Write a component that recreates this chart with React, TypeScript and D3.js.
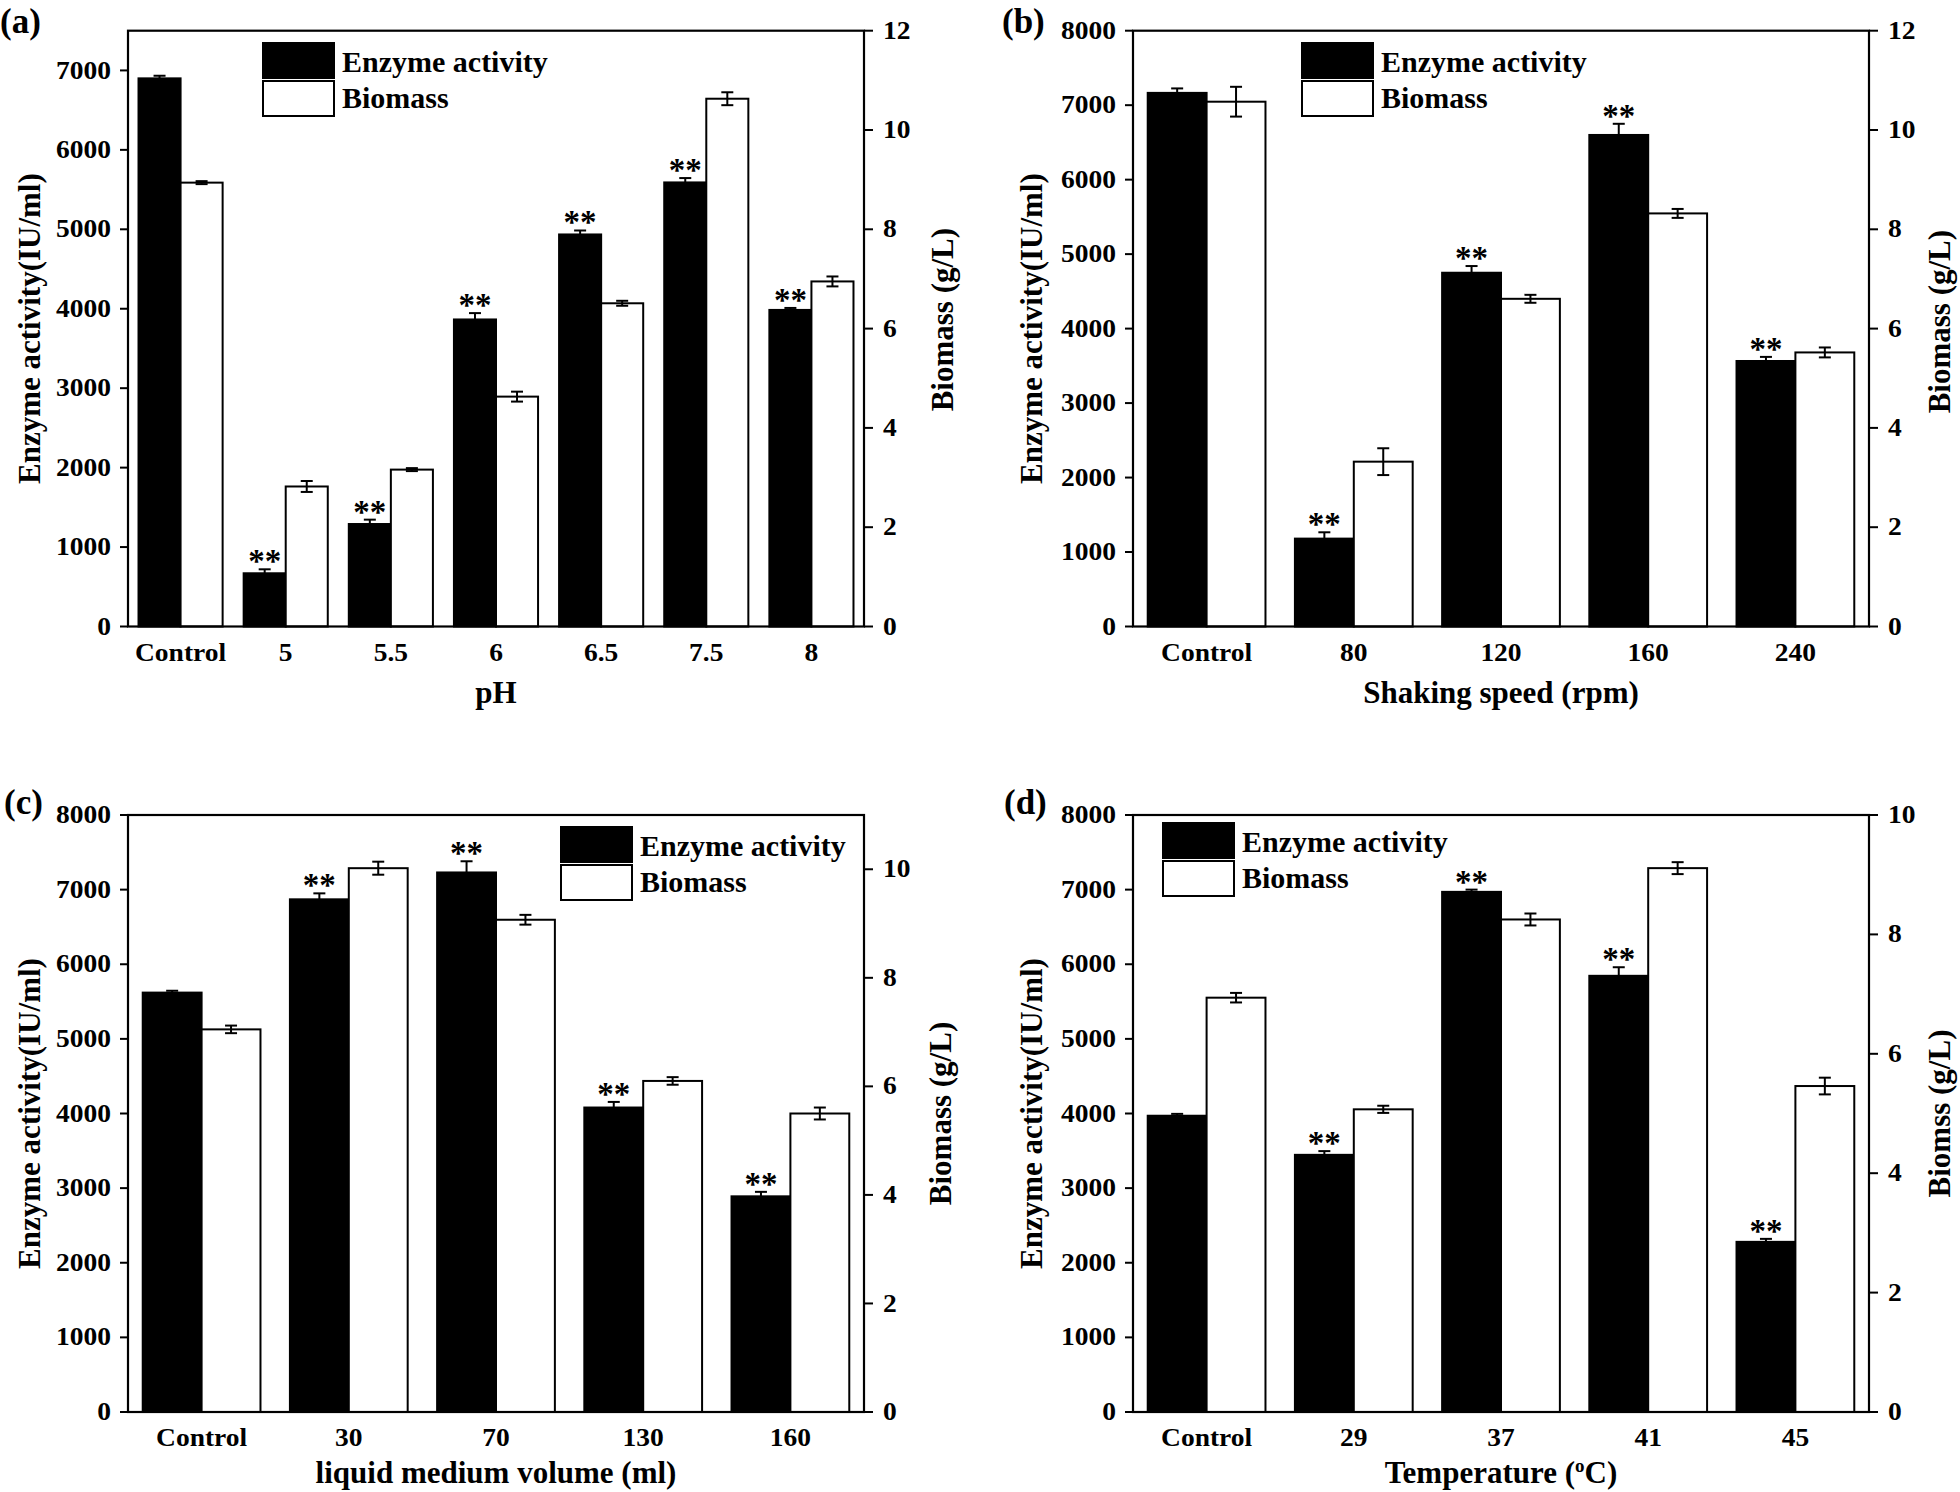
import React from 'react';
import * as d3 from 'd3';

// ---------- DATA ----------
// Panel (a) pH
const catsA = ['Control', '5', '5.5', '6', '6.5', '7.5', '8'];
const enzA = [6900, 670, 1290, 3865, 4935, 5590, 3985];
const enzErrA = [33, 50, 55, 80, 50, 55, 25];
const bioA = [8.94, 2.82, 3.16, 4.63, 6.51, 10.63, 6.95];
const bioErrA = [0.03, 0.11, 0.03, 0.1, 0.05, 0.13, 0.1];
const sigA = [false, true, true, true, true, true, true];

// Panel (b) shaking speed
const catsB = ['Control', '80', '120', '160', '240'];
const enzB = [7165, 1180, 4750, 6600, 3565];
const enzErrB = [60, 85, 90, 150, 55];
const bioB = [10.57, 3.32, 6.6, 8.32, 5.52];
const bioErrB = [0.3, 0.27, 0.08, 0.09, 0.1];
const sigB = [false, true, true, true, true];

// Panel (c) liquid medium volume
const catsC = ['Control', '30', '70', '130', '160'];
const enzC = [5620, 6870, 7230, 4080, 2890];
const enzErrC = [25, 80, 150, 75, 60];
const bioC = [7.05, 10.02, 9.07, 6.1, 5.5];
const bioErrC = [0.07, 0.12, 0.09, 0.07, 0.11];
const sigC = [false, true, true, true, true];

// Panel (d) temperature
const catsD = ['Control', '29', '37', '41', '45'];
const enzD = [3970, 3446, 6970, 5845, 2280];
const enzErrD = [25, 50, 30, 115, 40];
const bioD = [6.94, 5.07, 8.25, 9.11, 5.46];
const bioErrD = [0.08, 0.06, 0.1, 0.1, 0.14];
const sigD = [false, true, true, true, true];

// Tick labels
const leftTicks7 = [0, 1000, 2000, 3000, 4000, 5000, 6000, 7000];
const leftTicks8 = [0, 1000, 2000, 3000, 4000, 5000, 6000, 7000, 8000];
const rightTicks12 = [0, 2, 4, 6, 8, 10, 12];
const rightTicks10 = [0, 2, 4, 6, 8, 10];

const legendLabels = ['Enzyme activity', 'Biomass'];

// ---------- LAYOUT ----------
const FONT = '"Liberation Serif", "Times New Roman", Times, serif';

type Cfg = {
  label: string;
  cats: string[];
  enz: number[]; enzErr: number[]; bio: number[]; bioErr: number[]; sig: boolean[];
  leftMax: number; rightMax: number; leftTicks: number[]; rightTicks: number[];
  x0: number; x1: number; y0: number; y1: number;
  xTitle: string; yTitle: string; rTitle: string;
  legX: number; legY: number;
  labelX: number; labelY: number;
  yTitleX: number; rTitleX: number; rTitleDy: number; xTitleDy: number;
};

const panels: Cfg[] = [
  {
    label: '(a)', cats: catsA, enz: enzA, enzErr: enzErrA, bio: bioA, bioErr: bioErrA, sig: sigA,
    leftMax: 7500, rightMax: 12, leftTicks: leftTicks7, rightTicks: rightTicks12,
    x0: 128, x1: 864, y0: 30.7, y1: 626.5,
    xTitle: 'pH', yTitle: 'Enzyme activity(IU/ml)', rTitle: 'Biomass (g/L)',
    legX: 263, legY: 43, labelX: 0, labelY: 33, yTitleX: 40, rTitleX: 953, rTitleDy: -9, xTitleDy: 76,
  },
  {
    label: '(b)', cats: catsB, enz: enzB, enzErr: enzErrB, bio: bioB, bioErr: bioErrB, sig: sigB,
    leftMax: 8000, rightMax: 12, leftTicks: leftTicks8, rightTicks: rightTicks12,
    x0: 1133, x1: 1869, y0: 30.7, y1: 626.5,
    xTitle: 'Shaking speed (rpm)', yTitle: 'Enzyme activity(IU/ml)', rTitle: 'Biomass (g/L)',
    legX: 1302, legY: 43, labelX: 1002, labelY: 33, yTitleX: 1042, rTitleX: 1950, rTitleDy: -7, xTitleDy: 76,
  },
  {
    label: '(c)', cats: catsC, enz: enzC, enzErr: enzErrC, bio: bioC, bioErr: bioErrC, sig: sigC,
    leftMax: 8000, rightMax: 11, leftTicks: leftTicks8, rightTicks: rightTicks10,
    x0: 128, x1: 864, y0: 815, y1: 1412,
    xTitle: 'liquid medium volume (ml)', yTitle: 'Enzyme activity(IU/ml)', rTitle: 'Biomass (g/L)',
    legX: 561, legY: 827, labelX: 4, labelY: 814, yTitleX: 40, rTitleX: 951, rTitleDy: 0, xTitleDy: 71,
  },
  {
    label: '(d)', cats: catsD, enz: enzD, enzErr: enzErrD, bio: bioD, bioErr: bioErrD, sig: sigD,
    leftMax: 8000, rightMax: 10, leftTicks: leftTicks8, rightTicks: rightTicks10,
    x0: 1133, x1: 1869, y0: 815, y1: 1412,
    xTitle: 'temp', yTitle: 'Enzyme activity(IU/ml)', rTitle: 'Biomss (g/L)',
    legX: 1163, legY: 823, labelX: 1004, labelY: 814, yTitleX: 1042, rTitleX: 1950, rTitleDy: 0, xTitleDy: 71,
  },
];

const TICK_FS = 25;
const TICK_SX = 1.1;

function ErrBar({ x, yTop, yBot }: { x: number; yTop: number; yBot: number }) {
  const hw = 6;
  return (
    <g stroke="#000" strokeWidth={2}>
      <line x1={x} x2={x} y1={yTop} y2={yBot} />
      <line x1={x - hw} x2={x + hw} y1={yTop} y2={yTop} />
      <line x1={x - hw} x2={x + hw} y1={yBot} y2={yBot} />
    </g>
  );
}

function Panel({ c }: { c: Cfg }) {
  const x = d3.scaleBand<string>().domain(c.cats).range([c.x0, c.x1]).paddingInner(0).paddingOuter(0);
  const xs = d3.scaleBand<string>().domain(['enz', 'bio']).range([0, x.bandwidth()]).paddingInner(0).paddingOuter(0.25);
  const yL = d3.scaleLinear().domain([0, c.leftMax]).range([c.y1, c.y0]);
  const yR = d3.scaleLinear().domain([0, c.rightMax]).range([c.y1, c.y0]);
  const bw = xs.bandwidth();
  const cy = (c.y0 + c.y1) / 2;
  const cx = (c.x0 + c.x1) / 2;

  return (
    <g fontFamily={FONT} fontWeight="bold" fill="#000">
      {/* bars */}
      {c.cats.map((cat, i) => {
        const gx = x(cat)!;
        const ex = gx + xs('enz')!;
        const bx = gx + xs('bio')!;
        const ey = yL(c.enz[i]);
        const by = yR(c.bio[i]);
        const capY = yL(c.enz[i] + c.enzErr[i]);
        return (
          <g key={cat}>
            <rect x={ex} y={ey} width={bw} height={c.y1 - ey} fill="#000" stroke="#000" strokeWidth={2} />
            <rect x={bx} y={by} width={bw} height={c.y1 - by} fill="#fff" stroke="#000" strokeWidth={2} />
            <ErrBar x={ex + bw / 2} yTop={capY} yBot={yL(c.enz[i] - c.enzErr[i])} />
            <ErrBar x={bx + bw / 2} yTop={yR(c.bio[i] + c.bioErr[i])} yBot={yR(c.bio[i] - c.bioErr[i])} />
            {c.sig[i] && (
              <text x={ex + bw / 2} y={capY + 3} textAnchor="middle" fontSize={33} fontWeight="bold">**</text>
            )}
          </g>
        );
      })}
      {/* frame */}
      <rect x={c.x0} y={c.y0} width={c.x1 - c.x0} height={c.y1 - c.y0} fill="none" stroke="#000" strokeWidth={2.2} />
      {/* left axis */}
      {c.leftTicks.map((t) => (
        <g key={'l' + t}>
          <line x1={c.x0 - 8} x2={c.x0} y1={yL(t)} y2={yL(t)} stroke="#000" strokeWidth={2} />
          <text transform={`translate(${c.x0 - 17},${yL(t)}) scale(${TICK_SX},1)`} textAnchor="end" dominantBaseline="central" fontSize={TICK_FS}>{t}</text>
        </g>
      ))}
      {/* right axis */}
      {c.rightTicks.map((t) => (
        <g key={'r' + t}>
          <line x1={c.x1} x2={c.x1 + 9} y1={yR(t)} y2={yR(t)} stroke="#000" strokeWidth={2} />
          <text transform={`translate(${c.x1 + 19},${yR(t)}) scale(${TICK_SX},1)`} textAnchor="start" dominantBaseline="central" fontSize={TICK_FS}>{t}</text>
        </g>
      ))}
      {/* x tick labels */}
      {c.cats.map((cat) => (
        <text key={'x' + cat} transform={`translate(${x(cat)! + x.bandwidth() / 2},${c.y1 + 34}) scale(${TICK_SX},1)`} textAnchor="middle" fontSize={TICK_FS}>{cat}</text>
      ))}
      {/* titles */}
      <text x={cx} y={c.y1 + c.xTitleDy} textAnchor="middle" fontSize={31}>
        {c.xTitle === 'temp' ? (
          <>Temperature (<tspan fontSize={19} dy={-11}>o</tspan><tspan dy={11}>C)</tspan></>
        ) : c.xTitle}
      </text>
      <text transform={`translate(${c.yTitleX},${cy}) rotate(-90)`} textAnchor="middle" fontSize={31}>{c.yTitle}</text>
      <text transform={`translate(${c.rTitleX},${cy + c.rTitleDy}) rotate(-90)`} textAnchor="middle" fontSize={31}>{c.rTitle}</text>
      {/* legend */}
      <rect x={c.legX} y={c.legY} width={71} height={35} fill="#000" stroke="#000" strokeWidth={2} />
      <rect x={c.legX} y={c.legY + 38} width={71} height={35} fill="#fff" stroke="#000" strokeWidth={2} />
      <text x={c.legX + 79} y={c.legY + 29} fontSize={30}>{legendLabels[0]}</text>
      <text x={c.legX + 79} y={c.legY + 65} fontSize={30}>{legendLabels[1]}</text>
      {/* panel label */}
      <text x={c.labelX} y={c.labelY} fontSize={35}>{c.label}</text>
    </g>
  );
}

export default function App() {
  return (
    <svg width={1960} height={1492} viewBox="0 0 1960 1492" style={{ position: 'absolute', left: 0, top: 0, background: '#fff' }}>
      <rect x={0} y={0} width={1960} height={1492} fill="#fff" />
      {panels.map((p) => (
        <Panel key={p.label} c={p} />
      ))}
    </svg>
  );
}
